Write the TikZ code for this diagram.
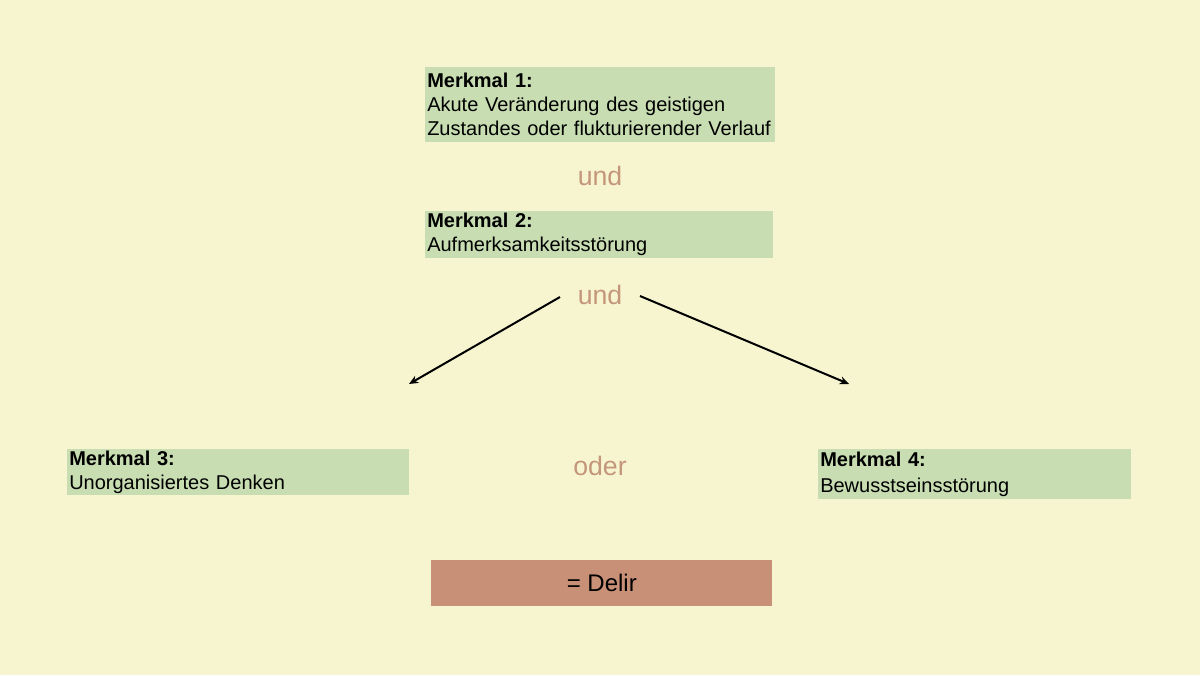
\documentclass[tikz,border=0pt]{standalone}
\usepackage{fontspec}
\setmainfont{Liberation Sans}
\usetikzlibrary{arrows.meta}
\definecolor{hintergrund}{RGB}{247,245,208}
\definecolor{gruen}{RGB}{200,222,178}
\definecolor{braun}{RGB}{196,150,122}
\definecolor{delir}{RGB}{200,144,118}
\tikzset{
  merkmal/.style={fill=gruen, anchor=north west, inner xsep=1.5pt, inner ysep=0pt, align=left, font=\fontsize{15}{18}\selectfont},
  verbind/.style={text=braun, font=\fontsize{20}{24}\selectfont},
  ergebnis/.style={fill=delir, anchor=north west, inner sep=0pt, font=\fontsize{18}{22}\selectfont},
  pfeil/.style={line width=1.5pt, -{Stealth[length=7pt,width=6pt]}}
}

\begin{document}
\begin{tikzpicture}[x=0.75pt,y=-0.75pt]
			%%%%% START %%%%%
			
			\fill[hintergrund] (0,0) rectangle (1200,675);
			\useasboundingbox (0,0) rectangle (1200,675);
			
			\node[merkmal, minimum width=262.5pt, minimum height=56.25pt, text width=259.5pt] (m1) at (425,67) {\textbf{Merkmal 1:}\\Akute Veränderung des geistigen\\Zustandes oder flukturierender Verlauf};
			\node[verbind] (und1) at (600,176) {und};
			
			\node[merkmal, minimum width=261pt, minimum height=35.25pt, text width=258pt] (m2) at (425,211) {\textbf{Merkmal 2:}\\Aufmerksamkeitsstörung};
			\node[verbind] (und2) at (600,295) {und};
			
			\coordinate (links0) at (560,297);
			\coordinate (links1) at (409,384);
			\coordinate (rechts0) at (640,296);
			\coordinate (rechts1) at (849,384);
			\draw[pfeil] (links0) -- (links1);
			\draw[pfeil] (rechts0) -- (rechts1);
			
			\node[merkmal, minimum width=256.5pt, minimum height=34.5pt, text width=253.5pt] (m3) at (67,449) {\textbf{Merkmal 3:}\\Unorganisiertes Denken};
			\node[verbind] (oder) at (600,466) {oder};
			\node[merkmal, minimum width=234.75pt, minimum height=37.5pt, text width=231.75pt] (m4) at (818,449) {\textbf{Merkmal 4:}\\[2pt]Bewusstseinsstörung};
			
			\node[ergebnis, minimum width=255.75pt, minimum height=34.5pt] (delir) at (431,560) {= Delir};
			
			%%%%% END %%%%%
\end{tikzpicture}
\end{document}
